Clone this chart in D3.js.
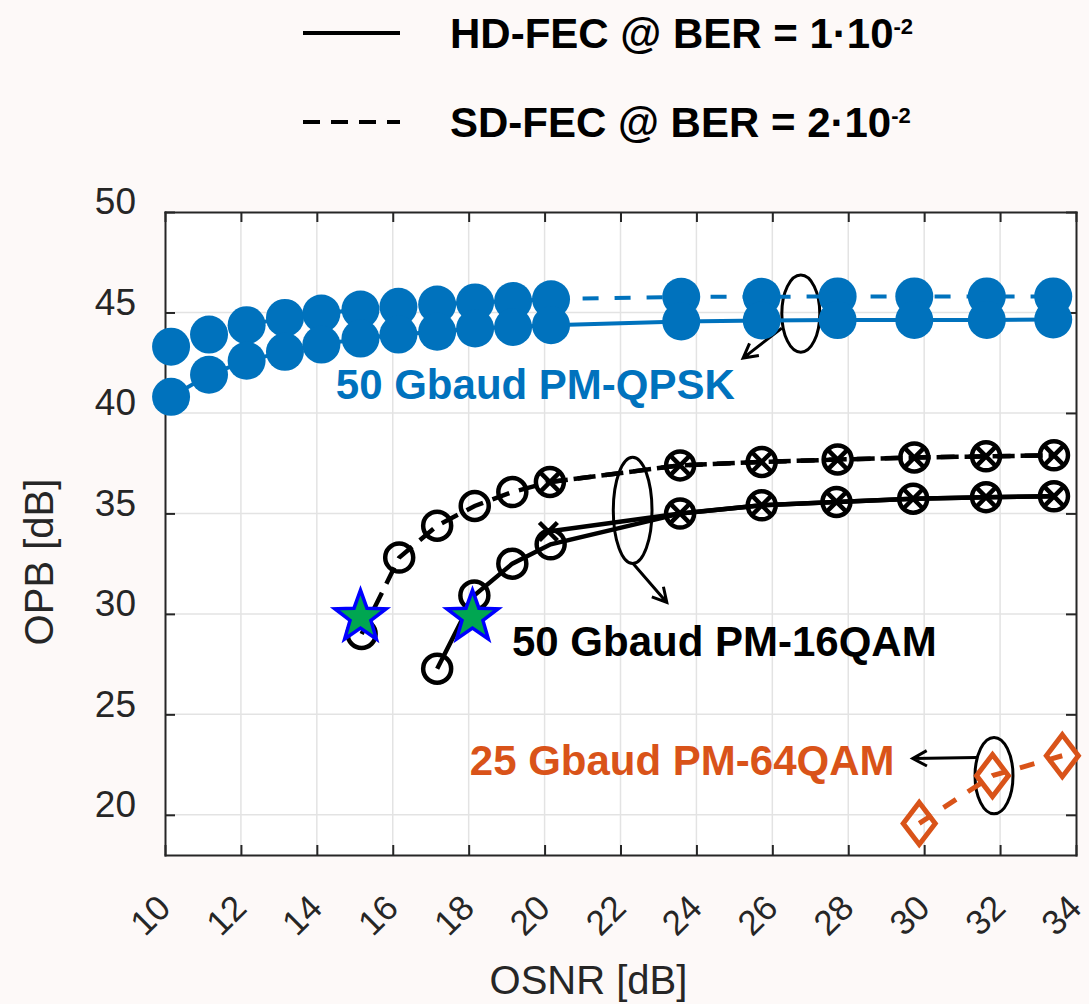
<!DOCTYPE html>
<html>
<head>
<meta charset="utf-8">
<script src="https://cdn.jsdelivr.net/npm/d3@7"></script>
<style>
  body { margin: 0; background: #fdf9f8; }
  text { font-family: "Liberation Sans", Arial, sans-serif; }
</style>
</head>
<body>
<script>
const WIDTH = 1089
const HEIGHT = 1004
const BLUE = '#0072bd'
const ORANGE = '#d95319'
const AXIS_COLOR = '#262626'

// x / y ticks
const xTicks = [10, 12, 14, 16, 18, 20, 22, 24, 26, 28, 30, 32, 34]
const yTicks = [20, 25, 30, 35, 40, 45, 50]

// 50 Gbaud PM-QPSK
const qpskOsnr = [10.16, 11.16, 12.15, 13.16, 14.12, 15.15, 16.15, 17.17, 18.17, 19.17, 20.17, 23.6, 25.72, 27.72, 29.74, 31.65, 33.4]
const qpskSd = [43.3, 43.9, 44.37, 44.73, 44.95, 45.15, 45.28, 45.4, 45.5, 45.57, 45.66, 45.78, 45.78, 45.8, 45.8, 45.8, 45.8]
const qpskHd = [40.8, 41.9, 42.6, 43.04, 43.4, 43.7, 43.9, 44.04, 44.2, 44.28, 44.37, 44.55, 44.6, 44.62, 44.63, 44.63, 44.65]

// 50 Gbaud PM-16QAM
const qam16SdOsnr = [15.18, 16.17, 17.17, 18.16, 19.15, 20.14, 23.57, 25.72, 27.72, 29.74, 31.63, 33.42]
const qam16Sd = [29.0, 32.8, 34.39, 35.37, 36.06, 36.56, 37.39, 37.56, 37.68, 37.78, 37.84, 37.89]
const qam16HdOsnr = [17.17, 18.15, 19.15, 20.16, 23.57, 25.72, 27.69, 29.71, 31.63, 33.42]
const qam16Hd = [27.27, 30.92, 32.5, 33.46, 34.99, 35.4, 35.57, 35.73, 35.81, 35.85]
// second measurement (x markers)
const qam16SdXOsnr = [20.14, 23.57, 25.72, 27.72, 29.74, 31.63, 33.42]
const qam16SdX = [36.56, 37.39, 37.56, 37.68, 37.78, 37.84, 37.89]
const qam16HdXOsnr = [20.1, 23.57, 25.72, 27.69, 29.71, 31.63, 33.42]
const qam16HdX = [34.1, 35.0, 35.4, 35.57, 35.73, 35.81, 35.85]

// 25 Gbaud PM-64QAM
const qam64Osnr = [29.87, 31.8, 33.64]
const qam64Sd = [19.57, 21.95, 22.94]

// stars
const starOsnr = [15.15, 18.1]
const starOpb = [29.84, 29.84]

// annotations (data units)
const labels = [
  { text: '50 Gbaud PM-QPSK', x: 14.5, y: 40.7, color: BLUE },
  { text: '50 Gbaud PM-16QAM', x: 19.14, y: 27.9, color: '#000' },
  { text: '25 Gbaud PM-64QAM', x: 18.03, y: 22.0, color: ORANGE }
]
const ellipses = [
  { cx: 26.75, cy: 44.94, rx: 0.5, ry: 1.92 },
  { cx: 22.32, cy: 35.15, rx: 0.51, ry: 2.64 },
  { cx: 31.84, cy: 21.95, rx: 0.5, ry: 1.9 }
]
const arrows = [
  { x1: 26.25, y1: 44.22, x2: 25.23, y2: 42.73 },
  { x1: 22.33, y1: 32.51, x2: 23.22, y2: 30.57 },
  { x1: 31.39, y1: 22.85, x2: 29.7, y2: 22.8 }
]

const legendItems = [
  { text: 'HD-FEC @ BER = 1·10', sup: '-2', dash: null },
  { text: 'SD-FEC @ BER = 2·10', sup: '-2', dash: '17,11' }
]

const margin = { top: 212, right: 13, bottom: 149, left: 165 }

const svg = d3.select('body').append('svg')
  .attr('width', WIDTH)
  .attr('height', HEIGHT)

svg.append('rect').attr('width', WIDTH).attr('height', HEIGHT).attr('fill', '#fdf9f8')

const x = d3.scaleLinear().domain([10, 34]).range([margin.left, WIDTH - margin.right])
const y = d3.scaleLinear().domain([18, 50]).range([HEIGHT - margin.bottom, margin.top])

svg.append('rect')
  .attr('x', x(10)).attr('y', y(50))
  .attr('width', x(34) - x(10)).attr('height', y(18) - y(50))
  .attr('fill', '#fff')

// grid
const grid = svg.append('g').attr('stroke', '#e3e3e3').attr('stroke-width', 1.5)
grid.selectAll('.gx').data(xTicks.slice(1, -1)).join('line')
  .attr('x1', d => x(d)).attr('x2', d => x(d))
  .attr('y1', y(50)).attr('y2', y(18))
grid.selectAll('.gy').data(yTicks.slice(0, -1)).join('line')
  .attr('y1', d => y(d)).attr('y2', d => y(d))
  .attr('x1', x(10)).attr('x2', x(34))

// axes (ticks pointing inward, box on)
const styleAxis = g => g
  .call(g2 => g2.select('.domain').attr('stroke', AXIS_COLOR).attr('stroke-width', 2))
  .call(g2 => g2.selectAll('.tick line').attr('stroke', AXIS_COLOR).attr('stroke-width', 2))

svg.append('g')
  .attr('transform', `translate(0,${y(18)})`)
  .call(d3.axisBottom(x).tickValues(xTicks).tickSizeInner(-10).tickSizeOuter(0))
  .call(styleAxis)
  .call(g => g.selectAll('text')
    .attr('x', null).attr('y', null).attr('dy', null)
    .attr('text-anchor', 'end')
    .attr('transform', 'translate(7,55) rotate(-45)')
    .attr('fill', AXIS_COLOR)
    .style('font-size', '35px'))

svg.append('g')
  .attr('transform', `translate(0,${y(50)})`)
  .call(d3.axisTop(x).tickValues(xTicks).tickSizeInner(-10).tickSizeOuter(0).tickFormat(''))
  .call(styleAxis)

svg.append('g')
  .attr('transform', `translate(${x(10)},0)`)
  .call(d3.axisLeft(y).tickValues(yTicks).tickSizeInner(-10).tickSizeOuter(0))
  .call(styleAxis)
  .call(g => g.selectAll('text')
    .attr('x', -29).attr('dy', '0.35em').attr('y', -11)
    .attr('fill', AXIS_COLOR)
    .style('font-size', '37px'))

svg.append('g')
  .attr('transform', `translate(${x(34)},0)`)
  .call(d3.axisRight(y).tickValues(yTicks).tickSizeInner(-10).tickSizeOuter(0).tickFormat(''))
  .call(styleAxis)

svg.selectAll('.domain').attr('stroke-linecap', 'square')

// axis labels
svg.append('text')
  .attr('x', (x(10) + x(34)) / 2 - 32).attr('y', 994)
  .attr('text-anchor', 'middle')
  .attr('fill', AXIS_COLOR)
  .style('font-size', '40px')
  .text('OSNR [dB]')

svg.append('text')
  .attr('transform', 'translate(53,562) rotate(-90)')
  .attr('text-anchor', 'middle')
  .attr('fill', AXIS_COLOR)
  .style('font-size', '40px')
  .text('OPB [dB]')

// annotations drawn under the markers
const annot = svg.append('g').attr('fill', 'none').attr('stroke', '#000').attr('stroke-width', 3)
annot.selectAll('ellipse').data(ellipses).join('ellipse')
  .attr('cx', d => x(d.cx)).attr('cy', d => y(d.cy))
  .attr('rx', d => x(d.cx + d.rx) - x(d.cx))
  .attr('ry', d => y(d.cy - d.ry) - y(d.cy))

const arrowPath = d => {
  const x1 = x(d.x1), y1 = y(d.y1), x2 = x(d.x2), y2 = y(d.y2)
  const a = Math.atan2(y2 - y1, x2 - x1)
  const len = 16, spread = 0.5
  const p1 = [x2 - len * Math.cos(a - spread), y2 - len * Math.sin(a - spread)]
  const p2 = [x2 - len * Math.cos(a + spread), y2 - len * Math.sin(a + spread)]
  return `M${x1},${y1}L${x2},${y2}M${p1}L${x2},${y2}L${p2}`
}
annot.selectAll('path').data(arrows).join('path')
  .attr('d', arrowPath)
  .attr('stroke-linejoin', 'miter')

const line = d3.line().x(d => x(d[0])).y(d => y(d[1]))
const pairs = (xs, ys) => xs.map((v, i) => [v, ys[i]])

const drawLine = (data, color, width, dash) => svg.append('path')
  .datum(data)
  .attr('d', line)
  .attr('fill', 'none')
  .attr('stroke', color)
  .attr('stroke-width', width)
  .attr('stroke-dasharray', dash)

// QPSK
drawLine(pairs(qpskOsnr, qpskHd), BLUE, 4, null)
drawLine(pairs(qpskOsnr, qpskSd), BLUE, 4, '16,16')
svg.append('g').selectAll('circle')
  .data([...pairs(qpskOsnr, qpskSd), ...pairs(qpskOsnr, qpskHd)])
  .join('circle')
  .attr('cx', d => x(d[0])).attr('cy', d => y(d[1]))
  .attr('r', 19)
  .attr('fill', BLUE)

// 16QAM
drawLine(pairs(qam16HdOsnr, qam16Hd), '#000', 4.5, null)
drawLine(pairs(qam16HdXOsnr, qam16HdX), '#000', 4.5, null)
drawLine(pairs(qam16SdOsnr, qam16Sd), '#000', 4.5, '18,10')
drawLine(pairs(qam16SdXOsnr, qam16SdX), '#000', 4.5, '18,10')
svg.append('g').selectAll('circle')
  .data([...pairs(qam16SdOsnr, qam16Sd), ...pairs(qam16HdOsnr, qam16Hd)])
  .join('circle')
  .attr('cx', d => x(d[0])).attr('cy', d => y(d[1]))
  .attr('r', 14)
  .attr('fill', 'none')
  .attr('stroke', '#000')
  .attr('stroke-width', 4.5)
svg.append('g').selectAll('path')
  .data([...pairs(qam16SdXOsnr, qam16SdX), ...pairs(qam16HdXOsnr, qam16HdX)])
  .join('path')
  .attr('transform', d => `translate(${x(d[0])},${y(d[1])})`)
  .attr('d', 'M-9,-9L9,9M-9,9L9,-9')
  .attr('stroke', '#000')
  .attr('stroke-width', 4.5)

// 64QAM
drawLine(pairs(qam64Osnr, qam64Sd), ORANGE, 5, '15,14')
svg.append('g').selectAll('path')
  .data(pairs(qam64Osnr, qam64Sd))
  .join('path')
  .attr('transform', d => `translate(${x(d[0])},${y(d[1])})`)
  .attr('d', 'M0,-21L16,0L0,21L-16,0Z')
  .attr('fill', 'none')
  .attr('stroke', ORANGE)
  .attr('stroke-width', 5)

// stars
const starShape = (R, r) => d3.range(10).map(i => {
  const a = -Math.PI / 2 + i * Math.PI / 5
  const rad = i % 2 ? r : R
  return [rad * Math.cos(a), rad * Math.sin(a)]
})
svg.append('g').selectAll('path')
  .data(pairs(starOsnr, starOpb))
  .join('path')
  .attr('transform', d => `translate(${x(d[0])},${y(d[1])})`)
  .attr('d', 'M' + starShape(27, 11).join('L') + 'Z')
  .attr('fill', '#00a651')
  .attr('stroke', '#0000ff')
  .attr('stroke-width', 3.5)

// text labels
svg.append('g').selectAll('text')
  .data(labels)
  .join('text')
  .attr('x', d => x(d.x)).attr('y', d => y(d.y))
  .attr('fill', d => d.color)
  .style('font-size', '42px')
  .style('font-weight', 'bold')
  .text(d => d.text)

// legend
const legend = svg.append('g')
legendItems.forEach((d, i) => {
  const ly = 33 + i * 89
  legend.append('line')
    .attr('x1', 303).attr('x2', 400).attr('y1', ly).attr('y2', ly)
    .attr('stroke', '#000').attr('stroke-width', 4)
    .attr('stroke-dasharray', d.dash)
  const t = legend.append('text')
    .attr('x', 450).attr('y', ly + 15)
    .style('font-size', '42px')
    .style('font-weight', 'bold')
    .attr('fill', '#000')
  t.append('tspan').text(d.text)
  t.append('tspan').attr('dy', -14).style('font-size', '22px').text(d.sup)
})
</script>
</body>
</html>
